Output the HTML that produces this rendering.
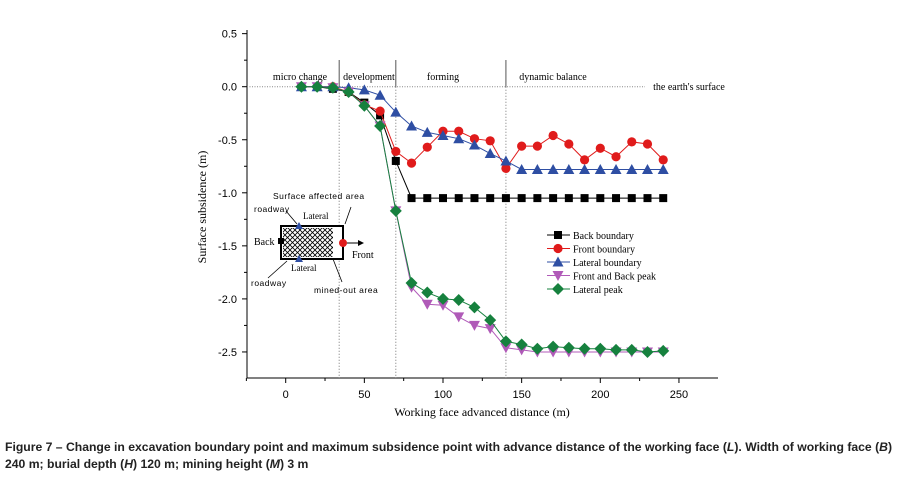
<!DOCTYPE html>
<html><head><meta charset="utf-8"><style>
body{margin:0;background:#fff;width:909px;height:481px;overflow:hidden}
svg text{font-family:"Liberation Serif",serif}
.s{font-family:"Liberation Sans",sans-serif}
.cap{position:absolute;left:5px;top:439px;width:905px;font:bold 12.2px/17px "Liberation Sans",sans-serif;color:#222;white-space:nowrap}
</style></head><body>
<svg id="c" width="909" height="481" style="position:absolute;left:0;top:0"></svg>
<div class="cap">Figure 7 – Change in excavation boundary point and maximum subsidence point with advance distance of the working face (<i>L</i>). Width of working face (<i>B</i>)<br>240 m; burial depth (<i>H</i>) 120 m; mining height (<i>M</i>) 3 m</div>
<script>
const xs=[10,20,30,40,50,60,70,80,90,100,110,120,130,140,150,160,170,180,190,200,210,220,230,240];
const backB=[0,0,-0.02,-0.05,-0.15,-0.27,-0.70,-1.05,-1.05,-1.05,-1.05,-1.05,-1.05,-1.05,-1.05,-1.05,-1.05,-1.05,-1.05,-1.05,-1.05,-1.05,-1.05,-1.05];
const frontB=[0,0,0,-0.05,-0.17,-0.23,-0.61,-0.72,-0.57,-0.42,-0.42,-0.49,-0.51,-0.77,-0.56,-0.56,-0.46,-0.54,-0.69,-0.58,-0.66,-0.52,-0.54,-0.69];
const latB=[0,0,0,-0.01,-0.03,-0.08,-0.24,-0.37,-0.43,-0.46,-0.49,-0.55,-0.63,-0.70,-0.78,-0.78,-0.78,-0.78,-0.78,-0.78,-0.78,-0.78,-0.78,-0.78];
const fbPeak=[0,0,-0.01,-0.05,-0.18,-0.37,-1.17,-1.89,-2.05,-2.06,-2.17,-2.25,-2.28,-2.46,-2.48,-2.50,-2.50,-2.50,-2.50,-2.50,-2.50,-2.50,-2.50,-2.50];
const latPeak=[0,0,-0.01,-0.05,-0.18,-0.37,-1.17,-1.85,-1.94,-2.00,-2.01,-2.08,-2.20,-2.40,-2.43,-2.47,-2.45,-2.46,-2.47,-2.47,-2.48,-2.48,-2.50,-2.49];
const xTicks=[0,50,100,150,200,250];
const yTicks=[0.5,0,-0.5,-1,-1.5,-2,-2.5];
const yLabels=["0.5","0.0","-0.5","-1.0","-1.5","-2.0","-2.5"];
const phases=[34,70,140];
const NS="http://www.w3.org/2000/svg",svg=document.getElementById('c');
const X=v=>285.7+v*1.573, Y=v=>86.7-v*106.1;
function mk(t,a,p){const e=document.createElementNS(NS,t);for(const k in a)e.setAttribute(k,a[k]);(p||svg).appendChild(e);return e;}
function tx(x,y,s,a){const e=mk('text',Object.assign({x:x,y:y},a||{}));e.textContent=s;return e;}
let ax=mk('line',{x1:247,y1:30,x2:247,y2:378,stroke:'#000','stroke-width':1});

let bx=mk('line',{x1:247,y1:378,x2:718,y2:378,stroke:'#000','stroke-width':1});

yTicks.forEach((v,i)=>{mk('line',{x1:242,y1:Y(v),x2:247,y2:Y(v),stroke:'#000'});
 if(i<yTicks.length-1)mk('line',{x1:244,y1:Y(v-0.25),x2:247,y2:Y(v-0.25),stroke:'#000'});
 const t=tx(237,Y(v)+4,yLabels[i],{'text-anchor':'end','font-size':11,class:'s'});
 });
xTicks.forEach(v=>{mk('line',{x1:X(v),y1:378,x2:X(v),y2:383,stroke:'#000'});
 if(v<250)mk('line',{x1:X(v+25),y1:378,x2:X(v+25),y2:381,stroke:'#000'});
 const t=tx(X(v),398,String(v),{'text-anchor':'middle','font-size':11,class:'s'});
 });
mk('line',{x1:X(-25),y1:378,x2:X(-25),y2:381,stroke:'#000'});
let yt=tx(0,0,'Surface subsidence (m)',{'font-size':12,transform:'translate(206,207) rotate(-90)','text-anchor':'middle'});

let xt=tx(482,416,'Working face advanced distance (m)',{'font-size':12,'text-anchor':'middle'});

mk('line',{x1:247,y1:Y(0),x2:645,y2:Y(0),stroke:'#888','stroke-dasharray':'1,1.5'});
phases.forEach(p=>{mk('line',{x1:X(p),y1:Y(0),x2:X(p),y2:378,stroke:'#777','stroke-dasharray':'1,2'});
 mk('line',{x1:X(p),y1:60,x2:X(p),y2:Y(0),stroke:'#555'});});
[['micro change',300],['development',369],['forming',443],['dynamic balance',553],["the earth's surface",689]].forEach((a,i)=>{
 const t=tx(a[1],i==4?90:80,a[0],{'font-size':10,'text-anchor':'middle'});});
function shape(k,x,y,c){
 if(k=='sq')return mk('rect',{x:x-4,y:y-4,width:8,height:8,fill:c});
 if(k=='ci')return mk('circle',{cx:x,cy:y,r:4.6,fill:c});
 if(k=='tu')return mk('polygon',{points:`${x},${y-5.5} ${x+5.5},${y+4.5} ${x-5.5},${y+4.5}`,fill:c});
 if(k=='td')return mk('polygon',{points:`${x},${y+5.5} ${x+5.5},${y-4.5} ${x-5.5},${y-4.5}`,fill:c});
 return mk('polygon',{points:`${x},${y-6} ${x+6},${y} ${x},${y+6} ${x-6},${y}`,fill:c});}
const series=[['back-boundary',backB,'#000','sq'],['front-boundary',frontB,'#e01b1b','ci'],['lateral-boundary',latB,'#2e4ea3','tu'],['front-back-peak',fbPeak,'#b05ab8','td'],['lateral-peak',latPeak,'#16813e','di']];
series.forEach(s=>{const g=mk('g',{});
 mk('polyline',{points:xs.map((x,i)=>X(x)+','+Y(s[1][i])).join(' '),fill:'none',stroke:s[2],'stroke-width':1},g);
 xs.forEach((x,i)=>{const m=shape(s[3],X(x),Y(s[1][i]),s[2]);g.appendChild(m);});});
const names=['Back boundary','Front boundary','Lateral boundary','Front and Back peak','Lateral peak'];
series.forEach((s,i)=>{const y=235+i*13.5;const g=mk('g',{});
 g.appendChild(mk('line',{x1:547,y1:y,x2:570,y2:y,stroke:s[2]}));g.appendChild(shape(s[3],558,y,s[2]));
 g.appendChild(tx(573,y+4,names[i],{'font-size':10}));});
const ig=mk('g',{});
mk('defs',{},ig).innerHTML='<pattern id="h" width="5" height="5" patternUnits="userSpaceOnUse"><path d="M0,0L5,5M5,0L0,5" stroke="#000" stroke-width="0.8"/></pattern>';
mk('rect',{x:281,y:226,width:62,height:33,fill:'#fff',stroke:'#000','stroke-width':2},ig);
mk('rect',{x:283,y:228,width:50,height:29,fill:'url(#h)'},ig);
mk('rect',{x:278,y:238,width:6,height:6,fill:'#000'},ig);
mk('circle',{cx:343,cy:243,r:4,fill:'#e01b1b'},ig);
mk('polygon',{points:'299,222 303,229 295,229',fill:'#2e4ea3'},ig);
mk('polygon',{points:'299,255 303,262 295,262',fill:'#2e4ea3'},ig);
mk('line',{x1:347,y1:243,x2:362,y2:243,stroke:'#000'},ig);mk('polygon',{points:'364,243 358,240 358,246'},ig);
[[273,199,'Surface affected area'],[254,212,'roadway'],[251,286,'roadway'],[314,293,'mined-out area']].forEach(a=>{const t=tx(a[0],a[1],a[2],{'font-size':8.5,class:'s','letter-spacing':'0.5'});ig.appendChild(t);});
ig.appendChild(tx(303,219,'Lateral',{'font-size':9}));ig.appendChild(tx(291,271,'Lateral',{'font-size':9}));
ig.appendChild(tx(254,245,'Back',{'font-size':10}));ig.appendChild(tx(352,258,'Front',{'font-size':10}));
[['M297,224L286,211'],['M345,224L351,207'],['M287,261L268,278'],['M333,259L342,282']].forEach(a=>mk('path',{d:a[0],stroke:'#000',fill:'none','stroke-width':0.8},ig));
</script>
</body></html>
